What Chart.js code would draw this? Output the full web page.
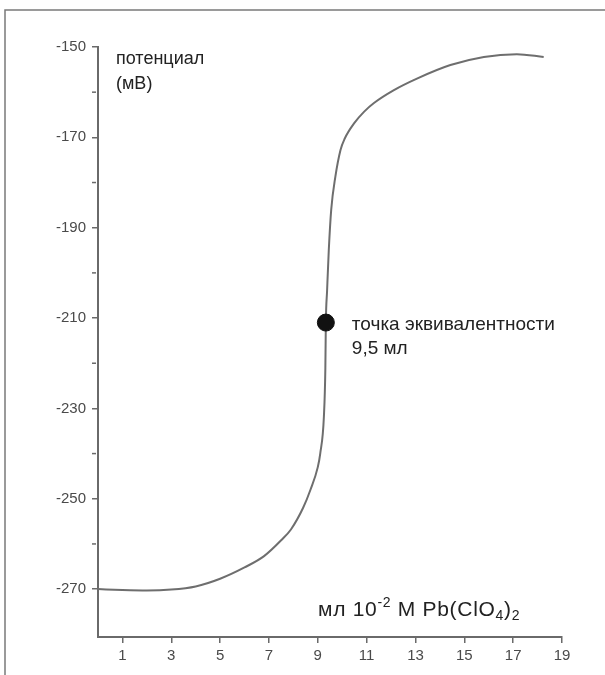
<!DOCTYPE html>
<html>
<head>
<meta charset="utf-8">
<script src="https://cdn.jsdelivr.net/npm/chart.js@4.4.1/dist/chart.umd.min.js"></script>
<style>
  html, body { margin: 0; padding: 0; background: #fff; }
  #wrap { width: 605px; height: 675px; position: relative; }
</style>
</head>
<body>
<div id="wrap"><canvas id="myChart" width="605" height="675"></canvas></div>
<script>
// данные кривой титрования (мл, мВ)
const volume = [0, 1, 2, 3, 4, 5, 6, 6.8, 7.5, 7.9, 8.4, 8.7, 9.0, 9.1, 9.25, 9.31, 9.33, 9.38, 9.45, 9.55, 9.72, 9.93, 10.1, 10.5, 10.9, 11.3, 12.1, 13.06, 14.43, 15.8, 17.15, 18.25];
const potential = [-270, -270.2, -270.3, -270.1, -269.4, -267.7, -265.2, -262.7, -259.2, -256.8, -252, -248, -243, -240, -231.8, -221, -211, -204, -195, -186, -178.7, -172.8, -170.3, -166.8, -164.3, -162.4, -159.6, -157, -154, -152.2, -151.6, -152.2];

// точка эквивалентности
const eqVolume = [9.33];
const eqPotential = [-211];

// деления осей
const xTicks = [1, 3, 5, 7, 9, 11, 13, 15, 17, 19];
const yTicks = [-270, -260, -250, -240, -230, -220, -210, -200, -190, -180, -170, -160, -150];
const yLabeled = [-270, -250, -230, -210, -190, -170, -150];

const axisColor = '#6a6a6a';
const font = '"Liberation Sans", Arial, sans-serif';

// подписи и рамка
const textPlugin = {
  id: 'texts',
  afterDraw(chart) {
    const ctx = chart.ctx;
    const x = chart.scales.x;
    const y = chart.scales.y;
    ctx.save();
    // рамка
    ctx.strokeStyle = '#7a7a7a';
    ctx.lineWidth = 1.5;
    ctx.beginPath();
    ctx.moveTo(5, 675);
    ctx.lineTo(5, 10);
    ctx.lineTo(605, 10);
    ctx.stroke();

    ctx.fillStyle = '#222';
    ctx.textBaseline = 'middle';
    ctx.textAlign = 'left';
    ctx.font = '18px ' + font;
    ctx.fillText('потенциал', 116, 59);
    ctx.fillText('(мВ)', 116, 84);

    ctx.font = '19px ' + font;
    const px = x.getPixelForValue(eqVolume[0]) + 26;
    const py = y.getPixelForValue(eqPotential[0]);
    ctx.fillText('точка эквивалентности', px, py + 2);
    ctx.fillText('9,5 мл', px, py + 26);

    // мл 10-2 M Pb(ClO4)2
    ctx.letterSpacing = '0.7px';
    let cx = 318;
    const cy = 610;
    const parts = [
      ['мл 10', 21, 0],
      ['-2', 14, -7],
      [' M Pb(ClO', 21, 0],
      ['4', 14, 6],
      [')', 21, 0],
      ['2', 14, 6]
    ];
    parts.forEach(p => {
      ctx.font = p[1] + 'px ' + font;
      ctx.fillText(p[0], cx, cy + p[2]);
      cx += ctx.measureText(p[0]).width;
    });
    ctx.letterSpacing = '0px';

    // мелкие деления оси Y
    ctx.strokeStyle = axisColor;
    ctx.lineWidth = 1.5;
    yTicks.forEach(v => {
      if (yLabeled.includes(v)) return;
      const ty = y.getPixelForValue(v);
      ctx.beginPath();
      ctx.moveTo(x.left - 6, ty);
      ctx.lineTo(x.left - 2, ty);
      ctx.stroke();
    });
    ctx.restore();
  }
};

const ctx = document.getElementById('myChart').getContext('2d');
const myChart = new Chart(ctx, {
  type: 'scatter',
  data: {
    datasets: [
      {
        data: eqVolume.map((v, i) => ({ x: v, y: eqPotential[i] })),
        pointRadius: 8.5,
        pointBackgroundColor: '#111',
        pointBorderColor: '#111',
        showLine: false
      },
      {
        data: volume.map((v, i) => ({ x: v, y: potential[i] })),
        showLine: true,
        borderColor: '#6e6e6e',
        borderWidth: 2,
        pointRadius: 0,
        cubicInterpolationMode: 'monotone'
      }
    ]
  },
  options: {
    responsive: false,
    animation: false,
    layout: { padding: { left: 0, right: 43, top: 47, bottom: 0 } },
    plugins: { legend: { display: false }, tooltip: { enabled: false } },
    scales: {
      x: {
        type: 'linear',
        min: 0,
        max: 19,
        afterBuildTicks: s => { s.ticks = xTicks.map(v => ({ value: v })); },
        afterFit: s => { s.height = 38; },
        grid: { drawOnChartArea: false, drawTicks: true, tickLength: 6, color: axisColor, lineWidth: 1.5 },
        border: { display: true, color: axisColor, width: 2 },
        ticks: { color: '#4a4a4a', font: { family: font, size: 15 }, padding: 4, maxRotation: 0, autoSkip: false }
      },
      y: {
        type: 'linear',
        min: -280.6,
        max: -150,
        afterBuildTicks: s => { s.ticks = yLabeled.map(v => ({ value: v })); },
        afterFit: s => { s.width = 98; },
        grid: { drawOnChartArea: false, drawTicks: true, tickLength: 6, color: axisColor, lineWidth: 1.5 },
        border: { display: true, color: axisColor, width: 2 },
        ticks: { color: '#4a4a4a', font: { family: font, size: 15 }, padding: 6, autoSkip: false }
      }
    }
  },
  plugins: [textPlugin]
});
</script>
</body>
</html>
